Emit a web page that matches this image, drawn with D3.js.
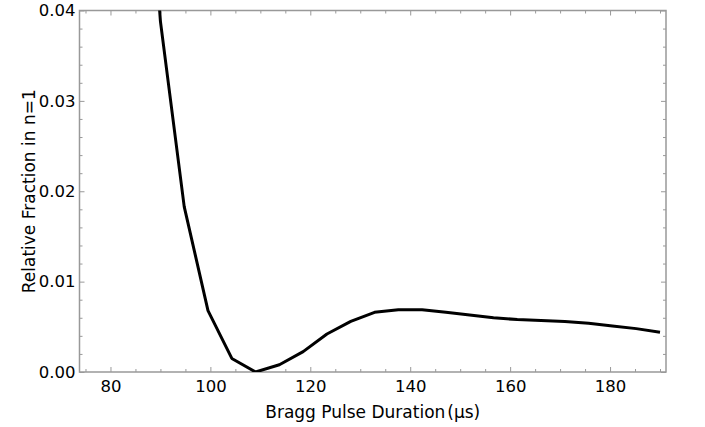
<!DOCTYPE html>
<html>
<head>
<meta charset="utf-8">
<script src="https://cdn.jsdelivr.net/npm/d3@7"></script>
<style>
  body { margin: 0; background: #fff; }
  svg text { font-family: "DejaVu Sans", Verdana, sans-serif; fill: #000; }
</style>
</head>
<body>
<svg id="chart" width="705" height="427"></svg>
<script>
// pulse duration (us) and relative fraction in n=1
var durations = [85.24, 90.00, 94.76, 99.52, 104.29, 109.05, 113.81, 118.57, 123.33, 128.10,
                 132.86, 137.62, 142.38, 147.14, 151.90, 156.67, 161.43, 166.19, 170.95,
                 175.71, 180.48, 185.24, 190.00];
var fractions = [0.0750, 0.0388, 0.0183, 0.0068, 0.0015, 0.0000, 0.0008, 0.00225, 0.0042, 0.0056,
                 0.0066, 0.0069, 0.0069, 0.0066, 0.0063, 0.0060, 0.0058, 0.0057, 0.0056,
                 0.0054, 0.0051, 0.0048, 0.0044];
var xTicks = [80, 100, 120, 140, 160, 180];
var yTicks = [0.00, 0.01, 0.02, 0.03, 0.04];

var svg = d3.select("#chart");
var margin = { top: 10.5, right: 39, bottom: 55, left: 79.5 };
var width = 705 - margin.left - margin.right;
var height = 427 - margin.top - margin.bottom;

var x = d3.scaleLinear().domain([73.8, 191.2]).range([0, width]);
var y = d3.scaleLinear().domain([0, 0.04]).range([height, 0]);

var g = svg.append("g").attr("transform", "translate(" + margin.left + "," + margin.top + ")");

svg.append("defs").append("clipPath").attr("id", "clip")
    .append("rect").attr("width", width).attr("height", height);

// minor ticks, all four sides
var xMinor = d3.range(75, 191, 5).filter(function (d) { return d % 20 != 0; });
var yMinor = d3.range(0.002, 0.04, 0.002).filter(function (d) { return Math.abs(d * 100 - Math.round(d * 100)) > 1e-6; });

function tickStyle(sel) {
    sel.select(".domain").remove();
    sel.selectAll(".tick line").attr("stroke", "#999").attr("stroke-width", 1);
}

// bottom
g.append("g").attr("transform", "translate(0," + height + ")")
    .call(d3.axisBottom(x).tickValues(xMinor).tickSize(-3).tickFormat(""))
    .call(tickStyle);
g.append("g").attr("transform", "translate(0," + height + ")")
    .call(d3.axisBottom(x).tickValues(xTicks).tickSize(-5).tickPadding(8).tickFormat(d3.format("d")))
    .call(tickStyle)
    .selectAll("text").style("font-size", "16.5px");
// top
g.append("g").call(d3.axisTop(x).tickValues(xMinor).tickSize(-3).tickFormat("")).call(tickStyle);
g.append("g").call(d3.axisTop(x).tickValues(xTicks).tickSize(-5).tickFormat("")).call(tickStyle);
// left
g.append("g").call(d3.axisLeft(y).tickValues(yMinor).tickSize(-3).tickFormat("")).call(tickStyle);
g.append("g")
    .call(d3.axisLeft(y).tickValues(yTicks).tickSize(-5).tickPadding(4).tickFormat(d3.format(".2f")))
    .call(tickStyle)
    .selectAll("text").style("font-size", "16.5px");
// right
g.append("g").attr("transform", "translate(" + width + ",0)")
    .call(d3.axisRight(y).tickValues(yMinor).tickSize(-3).tickFormat("")).call(tickStyle);
g.append("g").attr("transform", "translate(" + width + ",0)")
    .call(d3.axisRight(y).tickValues(yTicks).tickSize(-5).tickFormat("")).call(tickStyle);

// frame
g.append("rect")
    .attr("width", width).attr("height", height)
    .attr("fill", "none").attr("stroke", "#999").attr("stroke-width", 1.5);

// curve
var line = d3.line()
    .x(function (d, i) { return x(durations[i]); })
    .y(function (d) { return y(d); });

g.append("path")
    .datum(fractions)
    .attr("clip-path", "url(#clip)")
    .attr("fill", "none")
    .attr("stroke", "#000")
    .attr("stroke-width", 3)
    .attr("stroke-linejoin", "round")
    .attr("d", line);

// axis labels
var xl = svg.append("text")
    .attr("x", margin.left + width / 2)
    .attr("y", 418)
    .attr("text-anchor", "middle")
    .style("font-size", "17px");
xl.append("tspan").text("Bragg Pulse Duration");
xl.append("tspan").attr("dx", 2).text("(μs)");

svg.append("text")
    .attr("transform", "translate(35," + (margin.top + height / 2) + ") rotate(-90)")
    .attr("text-anchor", "middle")
    .style("font-size", "17px")
    .text("Relative Fraction in n=1");
</script>
</body>
</html>
